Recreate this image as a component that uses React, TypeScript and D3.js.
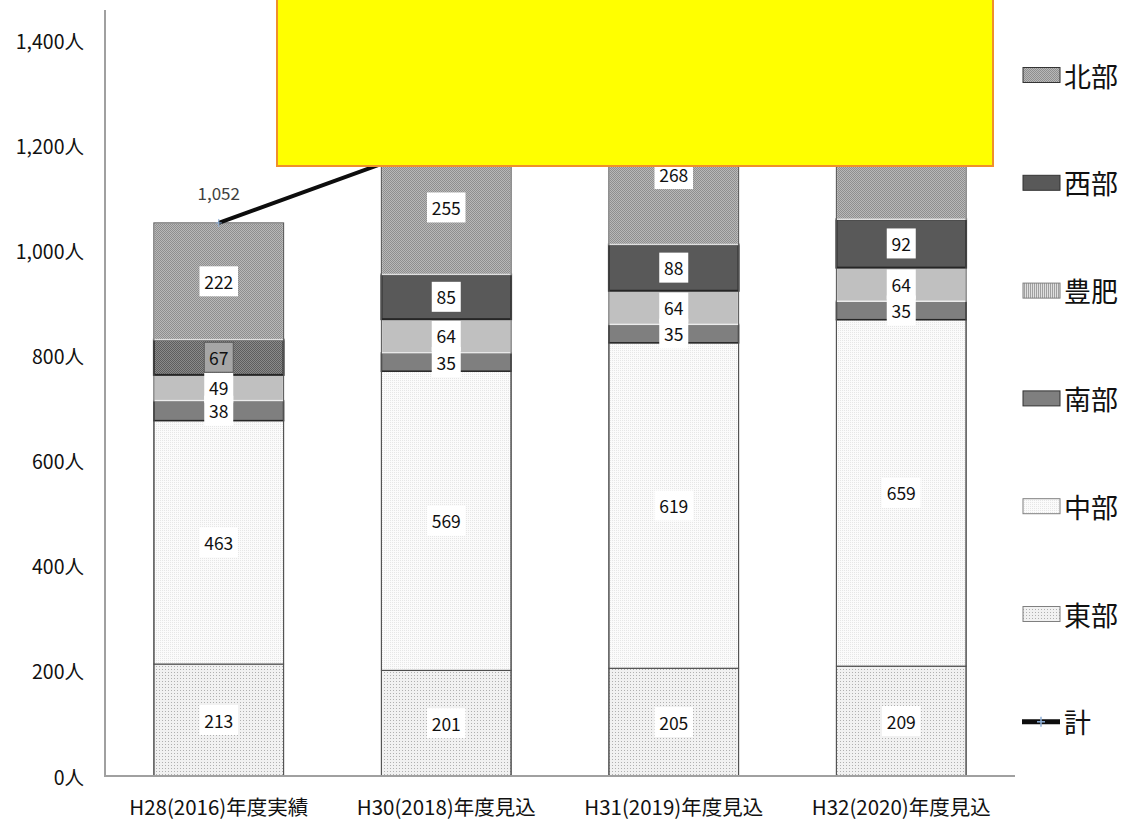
import React from "react";
import * as d3 from "d3";

const categories = ["H28(2016)年度実績", "H30(2018)年度見込", "H31(2019)年度見込", "H32(2020)年度見込"];
const seriesNames = ["東部", "中部", "南部", "豊肥", "西部", "北部"];
const eastValues = [213, 201, 205, 209];
const centralValues = [463, 569, 619, 659];
const southValues = [38, 35, 35, 35];
const hohiValues = [49, 64, 64, 64];
const westValues = [67, 85, 88, 92];
const northValues = [222, 255, 268, 280];
const yTicks = [0, 200, 400, 600, 800, 1000, 1200, 1400];
const legendOrder = ["北部", "西部", "豊肥", "南部", "中部", "東部", "計"];

const seriesValues = [eastValues, centralValues, southValues, hohiValues, westValues, northValues];

const FONT = "'Noto Sans CJK JP', 'Noto Sans', sans-serif";

const segStyle: Record<string, { fill: string; stroke: string; sw: number }> = {
  東部: { fill: "url(#pEast)", stroke: "#404040", sw: 1 },
  中部: { fill: "url(#pCentral)", stroke: "#404040", sw: 1 },
  南部: { fill: "#7f7f7f", stroke: "#262626", sw: 1.5 },
  豊肥: { fill: "#c0c0c0", stroke: "#ececec", sw: 1.5 },
  西部: { fill: "#595959", stroke: "#262626", sw: 2 },
  北部: { fill: "url(#pNorth)", stroke: "#e0e0e0", sw: 1.5 },
};

const legendFill: Record<string, string> = {
  北部: "url(#pNorth)",
  西部: "#595959",
  豊肥: "url(#pHohi)",
  南部: "#7f7f7f",
  中部: "url(#pCentral)",
  東部: "url(#pEast)",
};

export default function App() {
  const x = d3.scaleBand<string>().domain(categories).range([105, 1015]).paddingInner(0.43).paddingOuter(0.215);
  const y = d3.scaleLinear().domain([0, 1400]).range([776, 40]);
  const bw = x.bandwidth();

  const stacked = categories.map((c, i) => {
    let acc = 0;
    return seriesNames.map((s, k) => {
      const v = seriesValues[k][i];
      const seg = { name: s, v, y0: acc, y1: acc + v, cat: c, i };
      acc += v;
      return seg;
    });
  });
  const totals = categories.map((_, i) => d3.sum(seriesValues, (arr) => arr[i]));
  const line = d3
    .line<number>()
    .x((_, i) => (x(categories[i]) as number) + bw / 2)
    .y((d) => y(d));

  const legendY = (i: number) => 75 + i * 107.8;

  return (
    <svg width={1129} height={820} style={{ position: "absolute", left: 0, top: 0, background: "#fff" }} fontFamily={FONT}>
      <defs>
        <pattern id="pNorth" patternUnits="userSpaceOnUse" width={2} height={2}>
          <rect width={2} height={2} fill="#b8b8b8" />
          <rect width={1} height={1} fill="#8e8e8e" />
          <rect x={1} y={1} width={1} height={1} fill="#8e8e8e" />
        </pattern>
        <pattern id="pWest1" patternUnits="userSpaceOnUse" width={2} height={2}>
          <rect width={2} height={2} fill="#8a8a8a" />
          <rect width={1} height={1} fill="#5e5e5e" />
          <rect x={1} y={1} width={1} height={1} fill="#5e5e5e" />
        </pattern>
        <pattern id="pCentral" patternUnits="userSpaceOnUse" width={2} height={2}>
          <rect width={2} height={2} fill="#fbfbfb" />
          <rect width={1} height={1} fill="#e6e6e6" />
        </pattern>
        <pattern id="pEast" patternUnits="userSpaceOnUse" width={3} height={3}>
          <rect width={3} height={3} fill="#f1f1f1" />
          <rect width={1} height={1} fill="#b0b0b0" />
        </pattern>
        <pattern id="pHohi" patternUnits="userSpaceOnUse" width={2} height={2}>
          <rect width={2} height={2} fill="#e0e0e0" />
          <rect width={1} height={2} fill="#a0a0a0" />
        </pattern>
      </defs>

      {/* bars */}
      {stacked.map((segs, i) =>
        segs.map((s) => {
          const st = segStyle[s.name];
          const fill = s.name === "西部" && i === 0 ? "url(#pWest1)" : st.fill;
          return (
            <rect
              key={s.name + i}
              x={x(s.cat)}
              y={y(s.y1)}
              width={bw}
              height={y(s.y0) - y(s.y1)}
              fill={fill}
              stroke={st.stroke}
              strokeWidth={st.sw}
            />
          );
        })
      )}
      {/* outer outlines */}
      {categories.map((c, i) => (
        <rect key={"o" + c} x={x(c)} y={y(totals[i])} width={bw} height={y(0) - y(totals[i])} fill="none" stroke="#555" strokeWidth={1} />
      ))}

      {/* data label boxes */}
      {stacked.map((segs, i) =>
        segs.map((s) => {
          const cx = (x(s.cat) as number) + bw / 2;
          const cy = y((s.y0 + s.y1) / 2);
          const txt = String(s.v);
          const w = txt.length * 9.5 + 10;
          const grey = s.name === "西部" && i === 0;
          return (
            <rect
              key={"b" + s.name + i}
              x={cx - w / 2}
              y={cy - 15}
              width={w}
              height={30}
              fill={grey ? "#a6a6a6" : "#fff"}
              stroke={grey ? "#595959" : "none"}
              strokeWidth={1}
            />
          );
        })
      )}
      {stacked.map((segs, i) =>
        segs.map((s) => {
          const cx = (x(s.cat) as number) + bw / 2;
          const cy = y((s.y0 + s.y1) / 2);
          return (
            <text key={"t" + s.name + i} x={cx} y={cy} textAnchor="middle" dominantBaseline="central" fontSize={17.5} fill="#111">
              {s.v}
            </text>
          );
        })
      )}

      {/* total line */}
      <path d={line(totals) || ""} fill="none" stroke="#0d0d0d" strokeWidth={4} />
      {totals.map((t, i) => {
        const cx = (x(categories[i]) as number) + bw / 2;
        return (
          <g key={"m" + i}>
            <line x1={cx - 3} x2={cx + 3} y1={y(t)} y2={y(t)} stroke="#8fb0d8" strokeWidth={1} />
            <line x1={cx} x2={cx} y1={y(t) - 4} y2={y(t) + 4} stroke="#8fb0d8" strokeWidth={1} />
            <text x={cx} y={y(t) - 30} textAnchor="middle" dominantBaseline="central" fontSize={17} fill="#404040">
              {d3.format(",")(t)}
            </text>
          </g>
        );
      })}

      {/* yellow box */}
      <rect x={277} y={-5} width={716} height={171} fill="#ffff00" stroke="#f0902a" strokeWidth={2} />

      {/* axes */}
      <line x1={105} x2={105} y1={10} y2={776} stroke="#a0a0a0" strokeWidth={2} />
      <line x1={104} x2={1015} y1={776} y2={776} stroke="#a0a0a0" strokeWidth={2} />
      {yTicks.map((t) => (
        <text key={"y" + t} x={84} y={y(t)} textAnchor="end" dominantBaseline="central" fontSize={19.5} fill="#111">
          {d3.format(",")(t) + "人"}
        </text>
      ))}
      {categories.map((c) => (
        <text key={"x" + c} x={(x(c) as number) + bw / 2} y={806} textAnchor="middle" dominantBaseline="central" fontSize={20.5} fill="#111">
          {c}
        </text>
      ))}

      {/* legend */}
      {legendOrder.map((name, i) => {
        const cy = legendY(i);
        return (
          <g key={"lg" + name}>
            {name === "計" ? (
              <g>
                <line x1={1022} x2={1060} y1={cy} y2={cy} stroke="#0d0d0d" strokeWidth={5} />
                <line x1={1037} x2={1045} y1={cy} y2={cy} stroke="#8fb0d8" strokeWidth={1.5} />
                <line x1={1041} x2={1041} y1={cy - 5} y2={cy + 5} stroke="#8fb0d8" strokeWidth={1.5} />
              </g>
            ) : (
              <rect
                x={1023}
                y={cy - 7.5}
                width={37}
                height={15}
                fill={legendFill[name]}
                stroke={name === "豊肥" || name === "中部" || name === "東部" ? "#7f7f7f" : "#333"}
                strokeWidth={1}
              />
            )}
            <text x={1064} y={cy} dominantBaseline="central" fontSize={27} fill="#111">
              {name}
            </text>
          </g>
        );
      })}
    </svg>
  );
}
